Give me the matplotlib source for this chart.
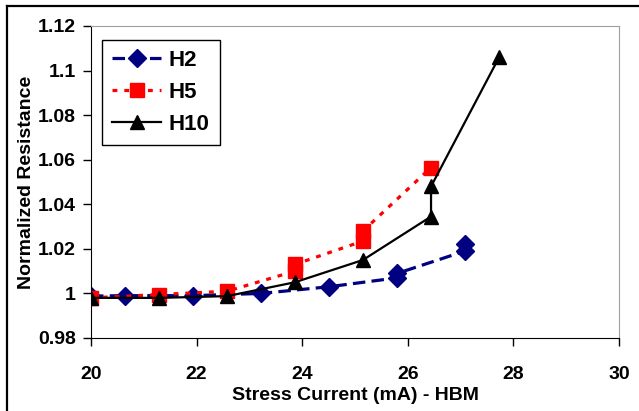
import matplotlib
matplotlib.use("Agg")
import matplotlib.pyplot as plt
from matplotlib.lines import Line2D

plt.rcParams['font.family'] = ['Liberation Sans', 'DejaVu Sans']
plt.rcParams['font.weight'] = 'bold'
plt.rcParams['lines.scale_dashes'] = False

# H2 - corriente de estres y resistencia normalizada
h2_x = [20.0, 20.64, 21.93, 23.22, 24.51, 25.80, 25.80, 27.08, 27.08]
h2_y = [0.9988, 0.999, 0.999, 1.000, 1.003, 1.007, 1.009, 1.019, 1.022]

# H5
h5_x = [20.0, 21.29, 22.58, 23.86, 23.86, 25.15, 25.15, 26.44]
h5_y = [0.998, 0.9995, 1.001, 1.010, 1.013, 1.0235, 1.028, 1.0565]

# H10
h10_x = [20.0, 21.29, 22.58, 23.86, 25.15, 26.44, 26.44, 27.73]
h10_y = [0.998, 0.998, 0.9988, 1.005, 1.015, 1.0345, 1.048, 1.106]

xticks = [20, 22, 24, 26, 28, 30]
yticks = [0.98, 1.0, 1.02, 1.04, 1.06, 1.08, 1.1, 1.12]
yticklabels = ['0.98', '1', '1.02', '1.04', '1.06', '1.08', '1.1', '1.12']

fig = plt.figure(figsize=(6.39, 4.11), dpi=100)
ax = fig.add_axes([91/639, 73/411, 528/639, 312/411])

# series en orden: cada una por encima de la anterior
ax.plot(h2_x, h2_y, color='#000080', lw=2.3, dashes=[9, 4.5],
        marker='D', ms=9, label='H2', zorder=2)
ax.plot(h5_x, h5_y, color='#ff0000', lw=2.3, dashes=[3.5, 5],
        marker='s', ms=10.5, label='H5', zorder=3)
ax.plot(h10_x, h10_y, color='black', lw=1.6,
        marker='^', ms=10.5, label='H10', zorder=4)

ax.set_xlim(20, 30)
ax.set_ylim(0.98, 1.12)
ax.set_xticks(xticks)
ax.set_yticks(yticks)
ax.set_yticklabels(yticklabels)
ax.tick_params(direction='out', length=6, width=1, labelsize=14)
ax.tick_params(axis='x', pad=14)
ax.tick_params(axis='y', pad=5)

for s in ['top', 'right']:
    ax.spines[s].set_color('#a0a0a0')
for s in ['left', 'bottom']:
    ax.spines[s].set_color('black')

ax.set_xlabel('Stress Current (mA) - HBM', fontsize=14, fontweight='bold', labelpad=3)
ax.set_ylabel('Normalized Resistance', fontsize=14, fontweight='bold', labelpad=2)

leg = ax.legend(loc='upper left', bbox_to_anchor=(0.021, 0.955), borderaxespad=0,
                fontsize=16, fancybox=False, framealpha=1, edgecolor='black',
                handlelength=2.2, handletextpad=0.35, labelspacing=0.5,
                borderpad=0.45)
leg.get_frame().set_linewidth(1)

# marco exterior
fig.add_artist(Line2D([7/639, 1], [1 - 6/411, 1 - 6/411], transform=fig.transFigure,
                      color='black', lw=1.6))
fig.add_artist(Line2D([7/639, 7/639], [0, 1 - 6/411], transform=fig.transFigure,
                      color='black', lw=1.6))

fig.savefig('out.png', dpi=100, facecolor='white')
